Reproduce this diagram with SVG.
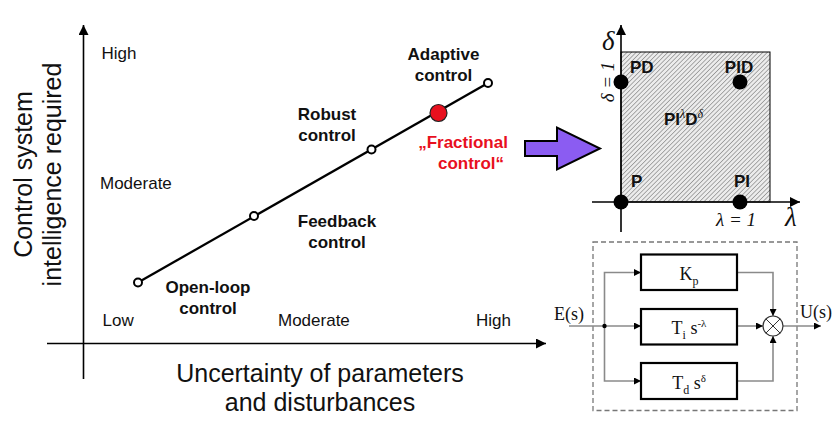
<svg xmlns="http://www.w3.org/2000/svg" width="838" height="430" viewBox="0 0 838 430">
<style>
.ax{stroke:#000;stroke-width:1.6;fill:none}
.lbl{font-family:"Liberation Sans",Arial,sans-serif;font-size:17px;fill:#111}
.b{font-family:"Liberation Sans",Arial,sans-serif;font-size:17px;font-weight:bold;fill:#111}
.title{font-family:"Liberation Sans",Arial,sans-serif;font-size:25px;fill:#111}
.red{fill:#e8101e}
.gk{font-family:"Liberation Serif","Times New Roman",serif;font-style:italic;fill:#111}
.tm{font-family:"Liberation Serif","Times New Roman",serif;font-size:18px;fill:#111}
.blk{fill:#fff;stroke:#000;stroke-width:2.2}
.wire{stroke:#8a8a8a;stroke-width:1.6;fill:none}
.dot{fill:#000}
.oc{fill:#fff;stroke:#000;stroke-width:2}
</style>
<defs>
<marker id="ah" viewBox="0 0 10 10" refX="10" refY="5" markerWidth="10" markerHeight="10" markerUnits="userSpaceOnUse" orient="auto"><path d="M0,0 L10,5 L0,10 z" fill="#000"/></marker>
<marker id="sa" viewBox="0 0 10 10" refX="10" refY="5" markerWidth="7" markerHeight="7" markerUnits="userSpaceOnUse" orient="auto"><path d="M0,0 L10,5 L0,10 z" fill="#000"/></marker>
<pattern id="hatch" patternUnits="userSpaceOnUse" width="3.2" height="3.2" patternTransform="rotate(45)">
<rect width="3.2" height="3.2" fill="#ececec"/>
<line x1="0" y1="0" x2="0" y2="3.2" stroke="#7a7a7a" stroke-width="1.2"/>
</pattern>
</defs>

<!-- Left chart -->
<g id="left-axes">
<line class="ax" x1="47" y1="343.5" x2="546" y2="343.5" marker-end="url(#ah)"/>
<line class="ax" x1="83.5" y1="379" x2="83.5" y2="25" marker-end="url(#ah)"/>
</g>
<g id="axis-labels">
<text class="lbl" x="101.5" y="59">High</text>
<text class="lbl" x="100" y="189">Moderate</text>
<text class="lbl" x="102.5" y="326">Low</text>
<text class="lbl" x="278" y="326">Moderate</text>
<text class="lbl" x="476" y="326">High</text>
<text class="title" text-anchor="middle" x="320" y="382">Uncertainty of parameters</text>
<text class="title" text-anchor="middle" x="320" y="411">and disturbances</text>
<text class="title" text-anchor="middle" transform="translate(32,174.5) rotate(-90)">Control system</text>
<text class="title" text-anchor="middle" transform="translate(61,174.5) rotate(-90)">intelligence required</text>
</g>
<g id="connectors">
<line x1="138" y1="282.5" x2="488" y2="83" stroke="#000" stroke-width="2.3"/>
</g>
<g id="open-loop">
<circle class="oc" cx="138" cy="282.5" r="4"/>
<text class="b" text-anchor="middle" x="208" y="293">Open-loop</text>
<text class="b" text-anchor="middle" x="208" y="314">control</text>
</g>
<g id="feedback">
<circle class="oc" cx="254" cy="216" r="4"/>
<text class="b" text-anchor="middle" x="337" y="227">Feedback</text>
<text class="b" text-anchor="middle" x="337" y="248">control</text>
</g>
<g id="robust">
<circle class="oc" cx="371.5" cy="149.5" r="4"/>
<text class="b" text-anchor="middle" x="327" y="120">Robust</text>
<text class="b" text-anchor="middle" x="327" y="141">control</text>
</g>
<g id="fractional">
<circle cx="438.5" cy="113" r="8.5" fill="#e8101e" stroke="#222" stroke-width="1.2"/>
<text class="b red" text-anchor="middle" x="463" y="148">„Fractional</text>
<text class="b red" text-anchor="middle" x="471" y="169">control“</text>
</g>
<g id="adaptive">
<circle class="oc" cx="488" cy="83" r="4"/>
<text class="b" text-anchor="middle" x="443.5" y="60">Adaptive</text>
<text class="b" text-anchor="middle" x="443.5" y="81">control</text>
</g>

<!-- Purple arrow -->
<g id="big-arrow">
<path d="M525,141 L557,141 L557,127.5 L600,148.5 L557,169.5 L557,156 L525,156 Z" fill="#8b5cf2" stroke="#000" stroke-width="2" stroke-linejoin="miter"/>
</g>

<!-- Right chart: lambda-delta plane -->
<g id="plane">
<rect x="621" y="52" width="149" height="150" fill="url(#hatch)" stroke="#000" stroke-width="1"/>
<line class="ax" x1="592" y1="202" x2="800" y2="202" marker-end="url(#ah)"/>
<line class="ax" x1="621" y1="232" x2="621" y2="25" marker-end="url(#ah)"/>
<text class="gk" font-size="27" x="602" y="50">δ</text>
<text class="gk" font-size="27" x="785" y="226">λ</text>
<text class="gk" font-size="19" text-anchor="middle" x="736" y="226">λ = 1</text>
<text class="gk" font-size="19" text-anchor="middle" transform="translate(614,82) rotate(-90)">δ = 1</text>
<text class="b" x="664" y="125">PI<tspan class="gk" font-weight="normal" font-size="12" dy="-7">λ</tspan><tspan dy="7">D</tspan><tspan class="gk" font-weight="normal" font-size="12" dy="-7">δ</tspan></text>
</g>
<g id="P"><circle class="dot" cx="621" cy="202" r="7.5"/><text class="b" x="631" y="187">P</text></g>
<g id="PI"><circle class="dot" cx="740" cy="202" r="7.5"/><text class="b" text-anchor="middle" x="742" y="187">PI</text></g>
<g id="PD"><circle class="dot" cx="621" cy="82" r="7.5"/><text class="b" x="630" y="73">PD</text></g>
<g id="PID"><circle class="dot" cx="740" cy="82" r="7.5"/><text class="b" text-anchor="middle" x="739" y="73">PID</text></g>

<!-- Block diagram -->
<g id="controller-frame">
<rect x="593" y="242" width="204" height="168.5" fill="none" stroke="#777" stroke-width="1.3" stroke-dasharray="5,3"/>
</g>
<g id="block-connectors">
<line class="wire" x1="569" y1="326" x2="641" y2="326" marker-end="url(#sa)"/>
<polyline class="wire" points="604.5,326 604.5,272.5 641,272.5" marker-end="url(#sa)"/>
<polyline class="wire" points="604.5,326 604.5,381 641,381" marker-end="url(#sa)"/>
<circle cx="604.5" cy="326" r="2.2" fill="#000"/>
<polyline class="wire" points="737,272.5 773,272.5 773,316" marker-end="url(#sa)"/>
<line class="wire" x1="737" y1="326" x2="763" y2="326" marker-end="url(#sa)"/>
<polyline class="wire" points="737,381 773,381 773,336" marker-end="url(#sa)"/>
<line class="wire" x1="783" y1="326" x2="821" y2="326" marker-end="url(#sa)"/>
</g>
<g id="Kp">
<rect class="blk" x="641" y="254.5" width="96" height="35.5"/>
<text class="tm" text-anchor="middle" x="689" y="280">K<tspan font-size="12" dy="5">p</tspan></text>
</g>
<g id="Ti">
<rect class="blk" x="641" y="309" width="96" height="35.5"/>
<text class="tm" text-anchor="middle" x="689" y="334">T<tspan font-size="12" dy="5">i</tspan><tspan dy="-5"> s</tspan><tspan font-size="11" dy="-7">-λ</tspan></text>
</g>
<g id="Td">
<rect class="blk" x="641" y="363" width="96" height="36"/>
<text class="tm" text-anchor="middle" x="689" y="389">T<tspan font-size="12" dy="5">d</tspan><tspan dy="-5"> s</tspan><tspan font-size="11" dy="-7">δ</tspan></text>
</g>
<g id="sum">
<circle cx="773" cy="326" r="10" fill="#fff" stroke="#333" stroke-width="1.2"/>
<line x1="765.9" y1="318.9" x2="780.1" y2="333.1" stroke="#333" stroke-width="1"/>
<line x1="780.1" y1="318.9" x2="765.9" y2="333.1" stroke="#333" stroke-width="1"/>
</g>
<g id="io-labels">
<text class="tm" x="554" y="320">E(s)</text>
<text class="tm" x="800" y="318">U(s)</text>
</g>
</svg>
